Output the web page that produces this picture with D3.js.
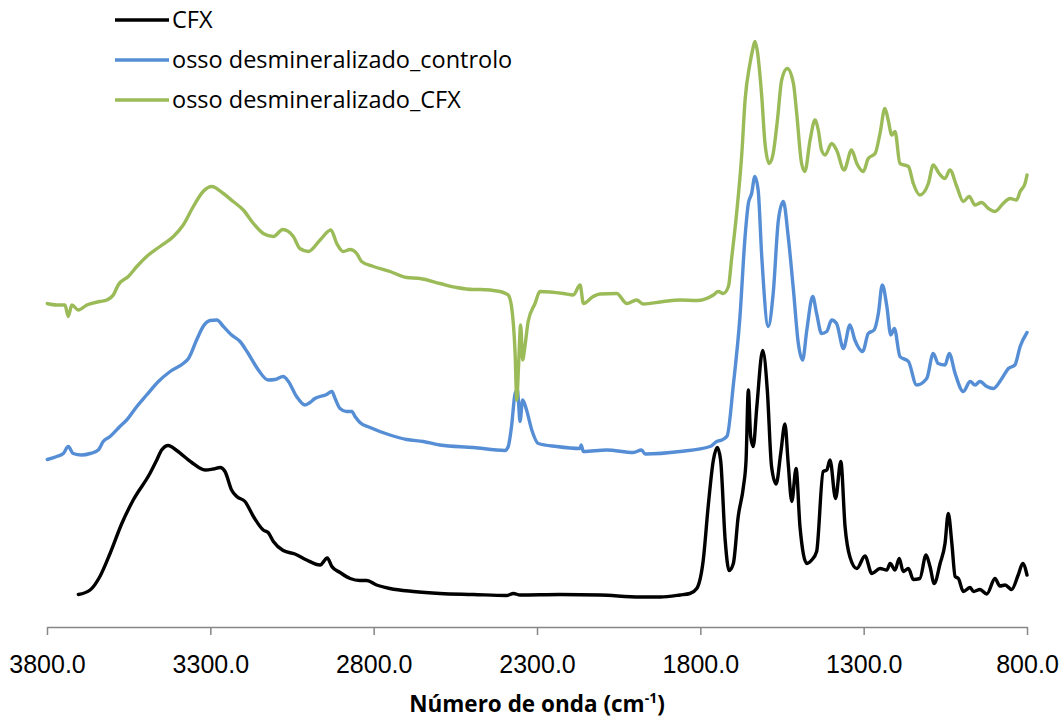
<!DOCTYPE html>
<html>
<head>
<meta charset="utf-8">
<script src="https://cdn.jsdelivr.net/npm/d3@7"></script>
<style>
  html, body { margin: 0; padding: 0; background: #fff; }
  svg { display: block; }
</style>
</head>
<body>
<svg id="chart" width="1062" height="722"></svg>
<script>
// FTIR spectra: [wavenumber (cm-1), absorbance (a.u., stacked)]
const cfx = [
  [3704,0.065],[3668,0.074],[3638,0.101],[3607,0.147],[3571,0.207],[3536,0.254],[3485,0.307],
  [3464,0.334],[3449,0.354],[3429,0.363],[3403,0.353],[3357,0.329],[3316,0.314],[3291,0.316],
  [3270,0.319],[3255,0.311],[3235,0.274],[3219,0.261],[3194,0.251],[3168,0.221],[3138,0.194],
  [3123,0.189],[3107,0.171],[3077,0.153],[3041,0.146],[3005,0.134],[2964,0.124],[2942,0.138],
  [2928,0.121],[2903,0.109],[2872,0.097],[2842,0.093],[2821,0.093],[2791,0.084],[2750,0.077],
  [2679,0.071],[2597,0.067],[2495,0.065],[2393,0.063],[2372,0.067],[2352,0.064],[2230,0.065],
  [2107,0.064],[1985,0.060],[1923,0.060],[1862,0.064],[1832,0.067],[1811,0.077],[1791,0.134],
  [1776,0.241],[1760,0.334],[1748,0.359],[1738,0.334],[1724,0.174],[1712,0.113],[1699,0.127],
  [1684,0.221],[1668,0.281],[1660,0.334],[1653,0.474],[1646,0.381],[1638,0.361],[1627,0.441],
  [1609,0.553],[1595,0.474],[1582,0.321],[1568,0.286],[1554,0.347],[1541,0.406],[1531,0.327],
  [1520,0.251],[1507,0.317],[1495,0.201],[1474,0.127],[1459,0.134],[1444,0.151],[1424,0.311],
  [1413,0.314],[1403,0.334],[1386,0.257],[1370,0.331],[1357,0.201],[1342,0.140],[1321,0.117],
  [1296,0.142],[1275,0.107],[1250,0.117],[1229,0.114],[1219,0.127],[1204,0.114],[1191,0.137],
  [1179,0.111],[1163,0.117],[1148,0.095],[1128,0.097],[1109,0.144],[1097,0.121],[1084,0.087],
  [1066,0.127],[1051,0.167],[1041,0.227],[1030,0.167],[1020,0.101],[1010,0.097],[995,0.071],
  [974,0.079],[964,0.071],[944,0.075],[923,0.066],[898,0.097],[883,0.082],[867,0.084],
  [847,0.075],[827,0.104],[813,0.127],[800,0.104]
];

const ossoControlo = [
  [3799,0.335],[3770,0.341],[3750,0.347],[3735,0.361],[3720,0.347],[3694,0.344],[3668,0.347],
  [3643,0.354],[3628,0.371],[3607,0.381],[3577,0.401],[3556,0.414],[3525,0.441],[3495,0.464],
  [3459,0.491],[3423,0.511],[3383,0.527],[3367,0.537],[3342,0.574],[3322,0.601],[3301,0.613],
  [3280,0.614],[3260,0.601],[3235,0.584],[3209,0.571],[3184,0.547],[3153,0.514],[3123,0.494],
  [3102,0.495],[3077,0.501],[3061,0.491],[3036,0.461],[3010,0.444],[2995,0.449],[2980,0.457],
  [2944,0.465],[2928,0.471],[2918,0.457],[2903,0.437],[2883,0.431],[2867,0.431],[2857,0.421],
  [2842,0.409],[2811,0.399],[2750,0.384],[2699,0.375],[2648,0.371],[2597,0.364],[2495,0.359],
  [2398,0.353],[2388,0.361],[2378,0.401],[2367,0.467],[2360,0.474],[2357,0.454],[2352,0.411],
  [2344,0.454],[2332,0.434],[2316,0.394],[2296,0.367],[2240,0.361],[2168,0.357],[2165,0.364],
  [2158,0.351],[2087,0.354],[2005,0.349],[1980,0.354],[1969,0.346],[1862,0.351],[1770,0.361],
  [1750,0.371],[1734,0.374],[1718,0.382],[1699,0.484],[1679,0.618],[1663,0.781],[1653,0.847],
  [1643,0.867],[1633,0.901],[1623,0.874],[1612,0.741],[1592,0.601],[1577,0.667],[1561,0.814],
  [1546,0.851],[1531,0.781],[1515,0.674],[1500,0.567],[1487,0.534],[1474,0.594],[1456,0.661],
  [1444,0.627],[1429,0.587],[1413,0.591],[1398,0.614],[1383,0.607],[1362,0.557],[1342,0.604],
  [1327,0.574],[1303,0.551],[1286,0.587],[1268,0.594],[1255,0.627],[1243,0.684],[1229,0.641],
  [1217,0.584],[1206,0.597],[1189,0.541],[1163,0.531],[1138,0.484],[1107,0.497],[1087,0.547],
  [1072,0.527],[1051,0.524],[1038,0.547],[1020,0.507],[995,0.471],[974,0.491],[959,0.484],
  [944,0.491],[923,0.481],[903,0.477],[877,0.497],[857,0.517],[837,0.524],[821,0.561],
  [800,0.589]
];

const ossoCFX = [
  [3799,0.647],[3770,0.644],[3745,0.644],[3735,0.621],[3724,0.644],[3704,0.634],[3678,0.644],
  [3638,0.651],[3617,0.654],[3597,0.664],[3582,0.684],[3551,0.701],[3525,0.721],[3495,0.741],
  [3454,0.761],[3413,0.781],[3383,0.804],[3352,0.841],[3322,0.871],[3296,0.881],[3260,0.867],
  [3230,0.851],[3199,0.834],[3168,0.807],[3138,0.787],[3107,0.781],[3078,0.795],[3046,0.781],
  [3026,0.757],[3000,0.751],[2964,0.774],[2931,0.794],[2913,0.767],[2893,0.751],[2872,0.755],
  [2852,0.747],[2837,0.731],[2801,0.721],[2750,0.711],[2699,0.699],[2658,0.697],[2597,0.687],
  [2546,0.679],[2495,0.675],[2474,0.675],[2413,0.671],[2393,0.666],[2388,0.664],[2378,0.641],
  [2367,0.547],[2362,0.454],[2357,0.514],[2350,0.604],[2344,0.534],[2337,0.561],[2327,0.611],
  [2306,0.647],[2291,0.671],[2219,0.667],[2189,0.664],[2168,0.684],[2158,0.647],[2128,0.661],
  [2107,0.666],[2056,0.667],[2025,0.647],[1995,0.654],[1975,0.646],[1913,0.651],[1862,0.654],
  [1811,0.653],[1760,0.664],[1745,0.671],[1730,0.667],[1714,0.681],[1704,0.738],[1689,0.827],
  [1673,0.947],[1663,1.054],[1648,1.127],[1640,1.154],[1633,1.171],[1626,1.154],[1612,1.061],
  [1602,0.967],[1589,0.927],[1577,0.947],[1564,1.014],[1551,1.094],[1534,1.117],[1515,1.087],
  [1505,1.027],[1490,0.927],[1480,0.911],[1464,0.974],[1449,1.014],[1439,0.994],[1429,0.954],
  [1418,0.944],[1398,0.967],[1383,0.954],[1360,0.914],[1337,0.954],[1321,0.927],[1301,0.911],
  [1286,0.937],[1265,0.947],[1250,0.987],[1235,1.037],[1225,1.014],[1214,0.984],[1204,0.991],
  [1189,0.927],[1163,0.921],[1148,0.887],[1128,0.864],[1102,0.887],[1087,0.924],[1069,0.907],
  [1051,0.897],[1036,0.914],[1015,0.881],[995,0.851],[977,0.861],[959,0.844],[939,0.849],
  [918,0.837],[898,0.831],[873,0.847],[852,0.857],[832,0.854],[821,0.871],[806,0.887],
  [800,0.904]
];

const seriesNames = ["CFX", "osso desmineralizado_controlo", "osso desmineralizado_CFX"];
const seriesColors = ["#000000", "#558ED5", "#9BBB59"];
const xTicks = [3800, 3300, 2800, 2300, 1800, 1300, 800];
const xTitle = "Número de onda (cm";
const xTitleSup = "-1";

const svg = d3.select("#chart");
const plot = { left: 47, right: 1027, top: 2, bottom: 627 };

const x = d3.scaleLinear().domain([3800, 800]).range([plot.left, plot.right]);
const y = d3.scaleLinear().domain([0, 1.25]).range([plot.bottom, plot.top]);

// Horizontal axis (wavenumber decreases to the right)
const xAxis = d3.axisBottom(x)
  .tickValues(xTicks)
  .tickFormat(d3.format(".1f"))
  .tickSize(8)
  .tickSizeOuter(0);

const gx = svg.append("g")
  .attr("transform", `translate(0,${plot.bottom})`)
  .call(xAxis);
gx.select(".domain").attr("stroke", "#868686").attr("stroke-width", 1.5);
gx.selectAll(".tick line").attr("stroke", "#868686").attr("stroke-width", 1.5);
gx.selectAll(".tick text")
  .attr("y", 28)
  .attr("dy", "0.71em")
  .attr("fill", "#000")
  .style("font-family", "'Liberation Sans', Arial, sans-serif")
  .style("font-size", "25px");

// Axis title with superscript
const title = svg.append("text")
  .attr("x", (plot.left + plot.right) / 2)
  .attr("y", 712)
  .attr("text-anchor", "middle")
  .style("font-family", "'Open Sans', 'Liberation Sans', sans-serif")
  .style("font-weight", "bold")
  .style("font-size", "22.5px")
  .attr("fill", "#000");
title.append("tspan").text(xTitle);
title.append("tspan").text(xTitleSup).attr("dy", -9).style("font-size", "14px");
title.append("tspan").text(")").attr("dy", 9);

// Spectra
const line = d3.line()
  .x(d => x(d[0]))
  .y(d => y(d[1]))
  .curve(d3.curveMonotoneX);

const data = [cfx, ossoControlo, ossoCFX];
svg.append("g").selectAll("path")
  .data(data)
  .join("path")
  .attr("d", line)
  .attr("fill", "none")
  .attr("stroke", (d, i) => seriesColors[i])
  .attr("stroke-width", 3.4)
  .attr("stroke-linejoin", "round")
  .attr("stroke-linecap", "round");

// Legend
const legend = svg.append("g").attr("transform", "translate(115,20)");
const rows = legend.selectAll("g")
  .data(seriesNames)
  .join("g")
  .attr("transform", (d, i) => `translate(0,${i * 40})`);
rows.append("line")
  .attr("x1", 0).attr("x2", 54)
  .attr("y1", 0).attr("y2", 0)
  .attr("stroke", (d, i) => seriesColors[i])
  .attr("stroke-width", 3.4);
rows.append("text")
  .attr("x", 57)
  .attr("y", 0)
  .attr("dy", "0.35em")
  .text(d => d)
  .style("font-family", "'Open Sans', 'Liberation Sans', sans-serif")
  .style("font-size", "23.5px")
  .attr("fill", "#000");
</script>
</body>
</html>
